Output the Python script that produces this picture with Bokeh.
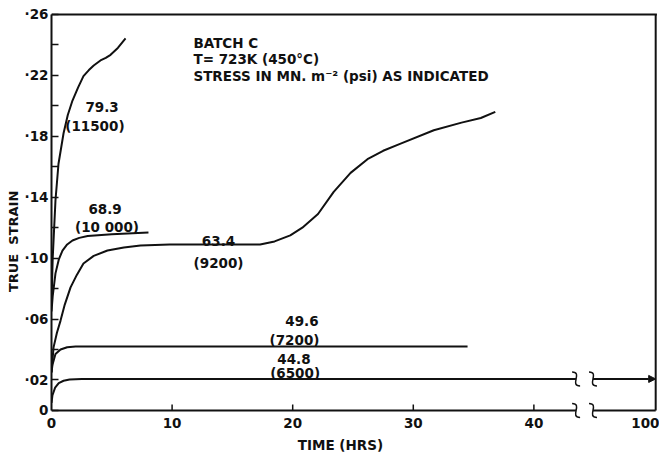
from bokeh.plotting import figure
from bokeh.models import FixedTicker, Label, Arrow, NormalHead, Range1d
from bokeh.embed import file_html
from bokeh.resources import INLINE

# ---------------- data ----------------
# creep curves, time in hours, true strain
t_793 = [0.0, 0.1, 0.33, 0.58, 1.0, 1.35, 1.74, 2.2, 2.65, 3.1, 3.5, 4.06, 4.5, 4.9, 5.5, 6.14]
s_793 = [0.070, 0.100, 0.138, 0.162, 0.182, 0.194, 0.2035, 0.212, 0.2195, 0.2235, 0.2265, 0.2298, 0.2315, 0.2335, 0.238, 0.2443]

t_689 = [0.0, 0.1, 0.33, 0.6, 0.91, 1.3, 1.74, 2.3, 3.0, 5.0, 8.04]
s_689 = [0.065, 0.075, 0.090, 0.099, 0.105, 0.109, 0.1116, 0.1133, 0.1145, 0.1157, 0.1169]

t_634 = [0.0, 0.17, 0.45, 0.75, 1.1, 1.58, 2.1, 2.65, 3.5, 4.64, 6.0, 7.38, 9.8, 13.0, 17.3,
         18.5, 19.8, 20.8, 22.1, 23.4, 24.8, 26.2, 27.5, 28.9, 31.7, 34.0, 35.6, 36.8]
s_634 = [0.025, 0.0414, 0.051, 0.059, 0.0695, 0.0808, 0.089, 0.0965, 0.1015, 0.105, 0.107, 0.1083, 0.109, 0.109, 0.109,
         0.111, 0.115, 0.120, 0.129, 0.1435, 0.156, 0.165, 0.1705, 0.175, 0.184, 0.189, 0.192, 0.196]

t_496 = [0.0, 0.08, 0.33, 0.75, 1.3, 2.0, 34.5]
s_496 = [0.025, 0.030, 0.037, 0.040, 0.0415, 0.042, 0.042]

t_448 = [0.0, 0.08, 0.3, 0.6, 1.0, 1.5, 2.5, 43.5]
s_448 = [0.005, 0.010, 0.015, 0.018, 0.0195, 0.0203, 0.0207, 0.0207]

y_ticks = [0.0, 0.02, 0.04, 0.06, 0.08, 0.10, 0.12, 0.14, 0.16, 0.18, 0.20, 0.22, 0.24, 0.26]
y_labels = ["0", "\u00b702", "", "\u00b706", "", "\u00b710", "", "\u00b714", "", "\u00b718", "", "\u00b722", "", "\u00b726"]
x_ticks = [0, 10, 20, 30, 40, 49.4]
x_labels = ["0", "10", "20", "30", "40", "100"]

BREAK_LO, BREAK_HI, X_END = 43.5, 44.9, 50.1   # axis break; right border stands for 100 h

FONT = "DejaVu Sans"
FS = "13.5px"
INK = "#111111"
NB = "\u00a0"

# pixel -> data helpers for small decorative sizes
PX_X = 1 / 12.06
PX_Y = 1 / 1523.0

p = figure(width=659, height=455, x_range=Range1d(0, 50.25), y_range=Range1d(-0.0066, 0.2613),
           output_backend="svg", toolbar_location=None,
           min_border_left=51, min_border_right=2, min_border_top=12, min_border_bottom=35)
p.grid.visible = False
p.outline_line_color = None
p.background_fill_color = "white"
p.border_fill_color = "white"

# y axis
ya = p.yaxis[0]
ya.ticker = FixedTicker(ticks=y_ticks)
ya.bounds = (0, 0.26)
ya.major_label_overrides = {t: l for t, l in zip(y_ticks, y_labels)}
ya.major_tick_in = 7
ya.major_tick_out = 0
ya.minor_tick_line_color = None
ya.major_label_standoff = 3
ya.axis_line_width = 2
ya.axis_line_color = INK
ya.major_tick_line_width = 1.5
ya.major_tick_line_color = INK
ya.major_label_text_font = FONT
ya.major_label_text_font_style = "bold"
ya.major_label_text_font_size = FS
ya.major_label_text_color = INK
ya.axis_label = "TRUE" + NB + NB + "STRAIN" + NB * 11
ya.axis_label_standoff = 1
ya.axis_label_text_font = FONT
ya.axis_label_text_font_style = "bold"
ya.axis_label_text_font_size = "13px"
ya.axis_label_text_color = INK

# x axis (tick marks drawn inside the frame separately)
xa = p.xaxis[0]
xa.ticker = FixedTicker(ticks=x_ticks)
xa.major_label_overrides = {t: l for t, l in zip(x_ticks, x_labels)}
xa.major_tick_in = 0
xa.major_tick_out = 0
xa.major_tick_line_color = None
xa.minor_tick_line_color = None
xa.major_label_standoff = -3
xa.axis_line_color = None
xa.major_label_text_font = FONT
xa.major_label_text_font_style = "bold"
xa.major_label_text_font_size = FS
xa.major_label_text_color = INK
xa.axis_label = "TIME (HRS)" + NB * 6
xa.axis_label_standoff = 6
xa.axis_label_text_font = FONT
xa.axis_label_text_font_style = "bold"
xa.axis_label_text_font_size = FS
xa.axis_label_text_color = INK

# bottom axis line with a break, inward x ticks, top and right borders
p.segment(x0=[0, BREAK_HI], y0=[0, 0], x1=[BREAK_LO, X_END], y1=[0, 0], line_width=2, line_color=INK)
p.segment(x0=x_ticks[1:5], y0=[0] * 4, x1=x_ticks[1:5], y1=[6 * PX_Y] * 4, line_width=1.5, line_color=INK)
p.segment(x0=[0, X_END], y0=[0.26, 0], x1=[X_END + 0.1, X_END], y1=[0.26, 0.26], line_width=2, line_color=INK)

# curves
for t, s in [(t_793, s_793), (t_689, s_689), (t_634, s_634), (t_496, s_496), (t_448, s_448)]:
    p.line(t, s, line_width=2, line_color=INK)

# continuation of the 44.8 curve after the break, with arrow
p.add_layout(Arrow(end=NormalHead(size=7, fill_color=INK, line_color=INK, line_width=1),
                   x_start=BREAK_HI, y_start=s_448[-1], x_end=X_END, y_end=s_448[-1],
                   line_width=2, line_color=INK))

# break squiggles (S-shaped strokes)
sq_x0, sq_y0, sq_x1, sq_y1, c0x, c0y, c1x, c1y = [], [], [], [], [], [], [], []
for xb in (BREAK_LO, BREAK_HI):
    for yb in (s_448[-1], 0.0):
        sq_x0.append(xb - 4 * PX_X); sq_y0.append(yb + 7 * PX_Y)
        sq_x1.append(xb + 4 * PX_X); sq_y1.append(yb - 7 * PX_Y)
        c0x.append(xb + 7 * PX_X); c0y.append(yb + 7 * PX_Y)
        c1x.append(xb - 7 * PX_X); c1y.append(yb - 7 * PX_Y)
p.bezier(x0=sq_x0, y0=sq_y0, x1=sq_x1, y1=sq_y1, cx0=c0x, cy0=c0y, cx1=c1x, cy1=c1y,
         line_width=1.5, line_color=INK)

def lab(x, y, text, align="center"):
    p.add_layout(Label(x=x, y=y, text=text, text_align=align, text_baseline="alphabetic",
                       text_font=FONT, text_font_style="bold",
                       text_font_size=FS, text_color=INK))

# header
lab(11.77, 0.241, "BATCH  C", "left")
lab(11.77, 0.2305, "T= 723K  (450\u00b0C)", "left")
lab(11.77, 0.2193, "STRESS IN MN. m\u207b\u00b2 (psi) AS INDICATED", "left")

# curve labels
lab(4.19, 0.199, "79.3")
lab(3.6, 0.187, "(11500)")
lab(4.44, 0.1325, "68.9")
lab(4.6, 0.1205, "(10 000)")
lab(13.85, 0.1115, "63.4")
lab(13.85, 0.0965, "(9200)")
lab(20.77, 0.059, "49.6")
lab(20.15, 0.0462, "(7200)")
lab(20.1, 0.0335, "44.8")
lab(20.2, 0.0248, "(6500)")

open("out.html", "w").write(file_html(p, INLINE))
